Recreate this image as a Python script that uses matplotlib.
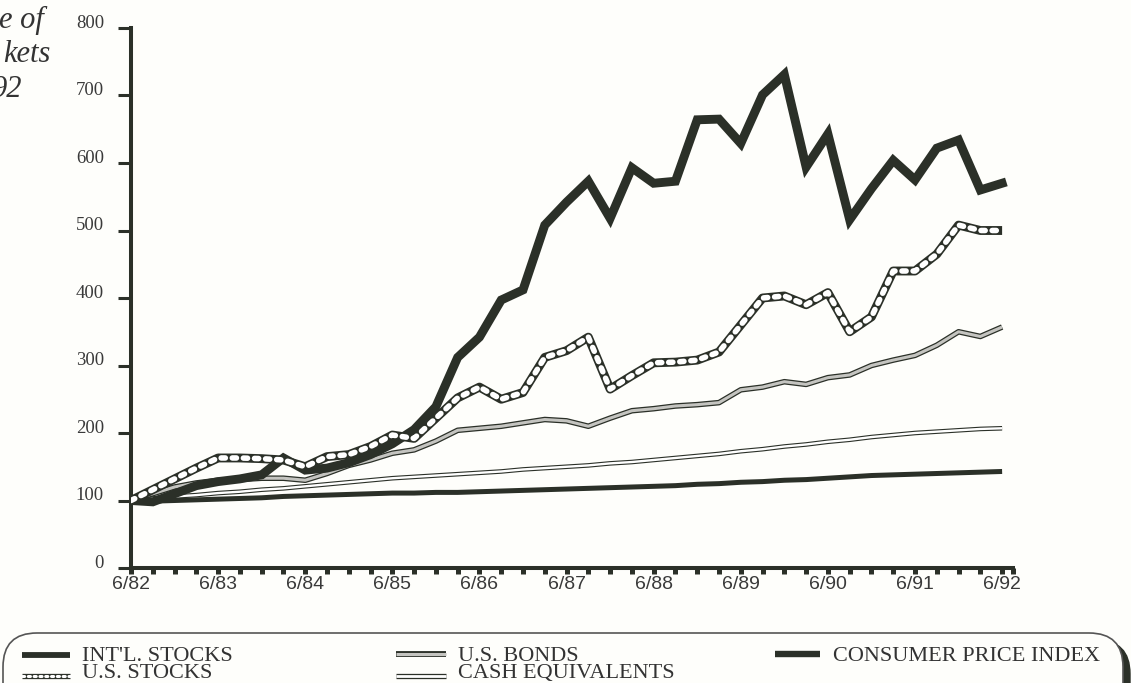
import numpy as np
import matplotlib
matplotlib.use("Agg")
import matplotlib.pyplot as plt
from matplotlib.lines import Line2D
from matplotlib.patches import FancyBboxPatch
from matplotlib.transforms import ScaledTranslation

# quarterly index values, 6/82 = 100
quarters = np.arange(41)
year_labels = ['6/82', '6/83', '6/84', '6/85', '6/86', '6/87', '6/88', '6/89', '6/90', '6/91', '6/92']

intl_stocks = [100, 98, 110, 122, 128, 132, 138, 163, 145, 148, 156, 168, 184, 205, 239,
               312, 342, 397, 412, 508, 542, 573, 518, 593, 570, 573, 664, 665, 629, 701,
               731, 594, 643, 516, 562, 604, 575, 622, 634, 560, 570]
us_stocks = [100, 116, 132, 148, 163, 163, 162, 160, 150, 165, 168, 180, 197, 192, 222,
             252, 268, 250, 260, 312, 322, 342, 265, 285, 304, 305, 308, 320, 360, 400,
             403, 390, 408, 350, 372, 440, 440, 465, 508, 500, 500]
us_bonds = [100, 110, 120, 126, 130, 131, 133, 133, 130, 140, 152, 160, 170, 175, 188,
            204, 207, 210, 215, 220, 218, 210, 222, 233, 236, 240, 242, 245, 264, 268,
            276, 272, 282, 286, 300, 308, 315, 330, 350, 343, 357]
cash_equiv = [100, 103, 106, 108, 111, 113, 116, 118, 121, 124, 127, 130, 133, 135, 137,
              139, 141, 143, 146, 148, 150, 152, 155, 157, 160, 163, 166, 169, 173, 176,
              180, 183, 187, 190, 194, 197, 200, 202, 204, 206, 207]
cpi = [100, 99, 100, 101, 102, 103, 104, 106, 107, 108, 109, 110, 111, 111, 112,
       112, 113, 114, 115, 116, 117, 118, 119, 120, 121, 122, 124, 125, 127, 128,
       130, 131, 133, 135, 137, 138, 139, 140, 141, 142, 143]

W, H = 1131, 683
dark = '#2b3028'

def fx(x):
    return x / W

def fy(y):
    return 1 - y / H

fig = plt.figure(figsize=(W / 100, H / 100), dpi=100, facecolor='#fefefb')
ax = fig.add_axes([fx(131), fy(568), fx(1013) - fx(131), fy(28) - fy(568)])
ax.set_facecolor('none')

# CPI
ax.plot(quarters, cpi, color=dark, lw=3.6, solid_capstyle='butt', zorder=2)
# cash: outlined white
ax.plot(quarters, cash_equiv, color=dark, lw=3.3, solid_capstyle='butt', zorder=3)
ax.plot(quarters, cash_equiv, color='white', lw=1.7, solid_capstyle='butt', zorder=3.1)
# bonds: outlined grey
ax.plot(quarters, us_bonds, color=dark, lw=4.0, solid_capstyle='butt', zorder=4)
ax.plot(quarters, us_bonds, color='#c4c4c0', lw=2.2, solid_capstyle='butt', zorder=4.1)
# intl stocks
ax.plot(quarters, intl_stocks, color=dark, lw=6.4, solid_joinstyle='miter', zorder=5)
# us stocks: chain
ax.plot(quarters, us_stocks, color=dark, lw=6.4, solid_capstyle='butt', zorder=6)
ax.plot(quarters, us_stocks, color='white', lw=4.0, dashes=(0.75, 1.25),
        dash_capstyle='round', zorder=6.1)

ax.set_xlim(0, 40.5)
ax.set_ylim(0, 800)
ax.set_yticks(range(0, 801, 100))
ax.set_xticks(list(quarters) + [40.5])
ax.set_xticklabels([year_labels[i // 4] if i % 4 == 0 else '' for i in quarters] + [''])

for s in ['top', 'right']:
    ax.spines[s].set_visible(False)
for s in ['left', 'bottom']:
    ax.spines[s].set_linewidth(2.9)
    ax.spines[s].set_color(dark)
    ax.spines[s].set_capstyle('projecting')

ax.tick_params(axis='x', direction='out', length=4.5, width=3.6, color=dark, pad=1.5,
               labelsize=14, labelcolor='#3a3a3a')
ax.tick_params(axis='y', direction='out', length=9.5, width=2.2, color=dark, pad=10,
               labelsize=13.5, labelcolor='#3a3a3a')
for lab in ax.get_xticklabels():
    lab.set_fontfamily('Liberation Sans')
for lab in ax.get_yticklabels():
    lab.set_fontfamily('Liberation Serif')
    lab.set_transform(lab.get_transform() + ScaledTranslation(0, 5 / 72, fig.dpi_scale_trans))

# cropped title fragments at top left
title_font = dict(family='Liberation Serif', style='italic', size=22, color='#333333',
                  ha='right', va='baseline')
fig.text(fx(44), fy(28), 'e of', **title_font)
fig.text(fx(50), fy(62), 'kets', **title_font)
fig.text(fx(22), fy(97), '92', **title_font)

# legend frame with shadow
shadow = FancyBboxPatch((fx(10), fy(720)), fx(1120), fy(640) - fy(720),
                        boxstyle='round,pad=0,rounding_size=0.03',
                        transform=fig.transFigure, facecolor=dark, edgecolor=dark,
                        mutation_aspect=W / H, zorder=1)
frame = FancyBboxPatch((fx(3), fy(720)), fx(1120), fy(633) - fy(720),
                       boxstyle='round,pad=0,rounding_size=0.03',
                       transform=fig.transFigure, facecolor='#fefefb', edgecolor='#555555',
                       lw=1.2, mutation_aspect=W / H, zorder=2)
fig.add_artist(shadow)
fig.add_artist(frame)

def handle(x0, x1, y, layers):
    for color, lw, extra in layers:
        fig.add_artist(Line2D([fx(x0), fx(x1)], [fy(y), fy(y)], transform=fig.transFigure,
                              color=color, lw=lw, solid_capstyle='butt', zorder=3, **extra))

handle(22, 70, 655, [(dark, 4.2, {})])
handle(22, 70, 676, [(dark, 3.8, {}),
                     ('white', 2.2, dict(dashes=(0.7, 1.2), dash_capstyle='round'))])
handle(396, 446, 654, [(dark, 4.2, {}), ('#c4c4c0', 2.2, {})])
handle(396, 446, 676, [(dark, 3.8, {}), ('white', 2.0, {})])
handle(775, 820, 654, [(dark, 4.6, {})])

leg_font = dict(family='Liberation Serif', size=16, color='#333333', ha='left',
                va='baseline', zorder=3)
fig.text(fx(82), fy(661), "INT'L. STOCKS", **leg_font)
fig.text(fx(82), fy(678), 'U.S. STOCKS', **leg_font)
fig.text(fx(458), fy(661), 'U.S. BONDS', **leg_font)
fig.text(fx(458), fy(678), 'CASH EQUIVALENTS', **leg_font)
fig.text(fx(833), fy(661), 'CONSUMER PRICE INDEX', **leg_font)

fig.savefig('out.png', dpi=100, facecolor=fig.get_facecolor())
